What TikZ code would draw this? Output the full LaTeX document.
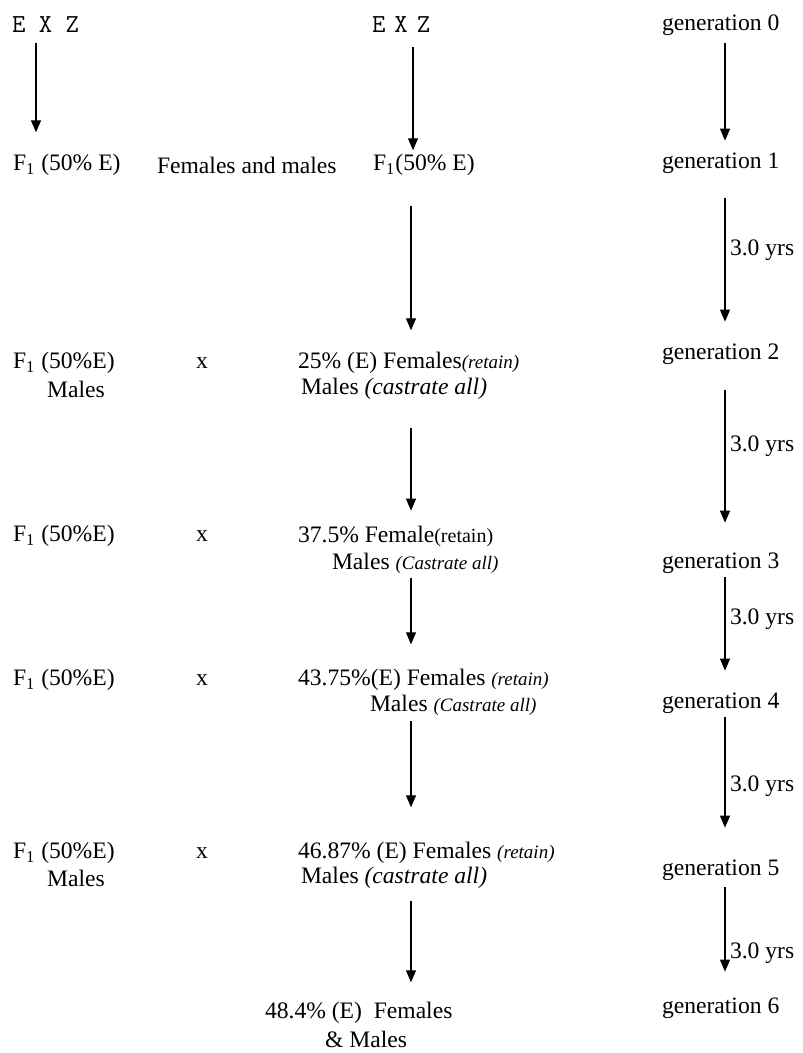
\documentclass[tikz,border=0pt]{standalone}
\usepackage{fontspec}
\setmainfont{Liberation Serif}
\usepackage{tikz}
\usetikzlibrary{arrows.meta,calc}

\begin{document}
\begin{tikzpicture}[
  x=0.5pt, y=-0.5pt,
  font=\fontsize{11.8}{14}\selectfont,
  every node/.style={inner sep=0pt, outer sep=0pt},
  txt/.style={anchor=west},
  exz/.style={anchor=west, font=\fontsize{13}{14}\selectfont\ttfamily},
  arr/.style={-{Triangle[width=5pt,length=6pt]}, line width=0.6pt},
  yrs/.style={anchor=west, xshift=2.5pt}
]
\useasboundingbox (0,0) rectangle (802,1053);
\newcommand{\rt}[1]{{\fontsize{9.5}{11}\selectfont\itshape #1}}
\coordinate (colL) at (36,0);
\coordinate (colM) at (411,0);
\coordinate (colR) at (725,0);
% --- top row ---
\node[exz] (exzA) at (12,25) {E X Z};
\node[exz] (exzB) at (372,25) {\spaceskip=0.35em E X Z};
\node[txt] (gen0) at (662,25) {generation 0};
% --- generation 1 ---
\node[txt] (fA) at (13,165) {F\textsubscript{1} (50\% E)};
\node[txt] (fm) at (157,165) {Females and males};
\node[txt] (fB) at (373,165) {F\textsubscript{1}(50\% E)};
\node[txt] (gen1) at (662,163) {generation 1};
% --- generation 2 ---
\node[txt] (l2) at (13,363) {F\textsubscript{1} (50\%E)};
\node (m2) at (76,389) {Males};
\node (x2) at (202,363) {x};
\node[txt] (r2a) at (298,363) {25\% (E) Females\rt{(retain)}};
\node[txt] (r2b) at (301,389) {Males \textit{(castrate all)}};
\node[txt] (gen2) at (662,354) {generation 2};
% --- generation 3 ---
\node[txt] (l3) at (13,536) {F\textsubscript{1} (50\%E)};
\node (x3) at (202,536) {x};
\node[txt] (r3a) at (298,536) {37.5\% Female{\fontsize{10}{11}\selectfont(retain)}};
\node[txt] (r3b) at (332,563) {Males \rt{(Castrate all)}};
\node[txt] (gen3) at (662,563) {generation 3};
% --- generation 4 ---
\node[txt] (l4) at (13,680) {F\textsubscript{1} (50\%E)};
\node (x4) at (202,680) {x};
\node[txt] (r4a) at (298,680) {43.75\%(E) Females \rt{(retain)}};
\node[txt] (r4b) at (370,705) {Males \rt{(Castrate all)}};
\node[txt] (gen4) at (662,703) {generation 4};
% --- generation 5 ---
\node[txt] (l5) at (13,853) {F\textsubscript{1} (50\%E)};
\node (m5) at (76,878) {Males};
\node (x5) at (202,853) {x};
\node[txt] (r5a) at (298,853) {46.87\% (E) Females \rt{(retain)}};
\node[txt] (r5b) at (301,878) {Males \textit{(castrate all)}};
\node[txt] (gen5) at (662,870) {generation 5};
% --- generation 6 ---
\node[txt] (r6a) at (265,1013) {48.4\% (E)\ \ Females};
\node (r6b) at (366,1039) {\&\ Males};
\node[txt] (gen6) at (662,1008) {generation 6};
% --- left and first middle arrow ---
\draw[arr] ($(exzA.south -| colL)+(0,10)$) -- ($(fA.north -| colL)+(0,-22)$);
\draw[arr] ($(exzB.south -| 413,0)+(0,14)$) -- ($(fB.north -| 413,0)+(0,-4)$);
% --- middle column arrows ---
\foreach \a/\b/\s/\e in {fB/r2a/30/-22,r2b/r3a/28/-15,r3b/r4a/5/-25,
                         r4b/r5a/6/-35,r5b/r6a/12/-20}
  \draw[arr] ($(\a.south -| colM)+(0,\s)$) -- ($(\b.north -| colM)+(0,\e)$);
% --- right column arrows ---
\draw[arr] ($(gen0.south -| colR)+(0,8)$) -- ($(gen1.north -| colR)+(0,-12)$);
\foreach \a/\b/\s/\e/\p in {gen1/gen2/25/-22/0.42,gen2/gen3/26/-30/0.42,
                            gen3/gen4/4/-22/0.45,gen4/gen5/4/-32/0.62,
                            gen5/gen6/7/-26/0.78}
  \draw[arr] ($(\a.south -| colR)+(0,\s)$) -- ($(\b.north -| colR)+(0,\e)$)
    node[yrs, pos=\p] {3.0 yrs};
\end{tikzpicture}
\end{document}
